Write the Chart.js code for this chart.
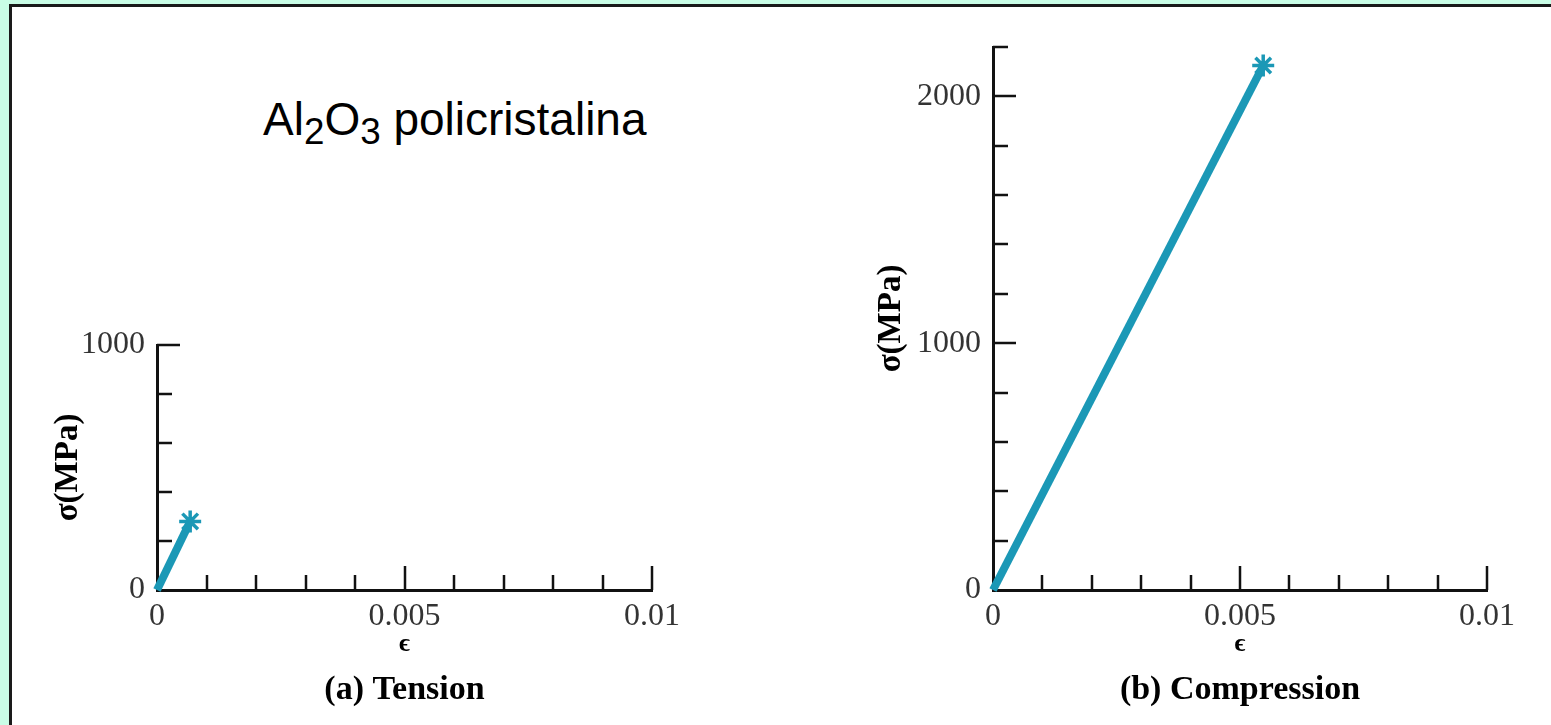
<!DOCTYPE html>
<html>
<head>
<meta charset="utf-8">
<script src="https://cdn.jsdelivr.net/npm/chart.js@4/dist/chart.umd.min.js"></script>
<style>
  html, body { margin: 0; padding: 0; }
  body { width: 1551px; height: 725px; background: #c9fde6; position: relative; overflow: hidden; }
  #panel { position: absolute; left: 9px; top: 4px; right: 0; bottom: 0; background: #fff;
           border-left: 3px solid #1a1a1a; border-top: 3px solid #1a1a1a; }
  canvas { position: absolute; top: 0; }
  #left { left: 0; }
  #right { left: 800px; }
  #heading { position: absolute; left: 263px; top: 96px; font: 46px "Liberation Sans", Arial, sans-serif;
             line-height: 1; color: #000; white-space: nowrap; }
  #heading sub { font-size: 0.8em; vertical-align: -9px; line-height: 0; }
</style>
</head>
<body>
<div id="panel"></div>
<div id="heading">Al<sub>2</sub>O<sub>3</sub> policristalina</div>
<canvas id="left" width="760" height="725"></canvas>
<canvas id="right" width="751" height="725"></canvas>
<script>
// strain (-) and stress (MPa)
const strainTension = [0, 0.00067];
const stressTension = [0, 280];
const strainCompression = [0, 0.00547];
const stressCompression = [0, 2125];

const xTickValues = [0, 0.005, 0.01];
const xTickLabels = ['0', '0.005', '0.01'];
const yTickValuesA = [0, 1000];
const yTickValuesB = [0, 1000, 2000];

const xMinorTicks = [0.001, 0.002, 0.003, 0.004, 0.005, 0.006, 0.007, 0.008, 0.009, 0.01];
const xMajorTicks = [0.005, 0.01];
const yMinorTicksA = [200, 400, 600, 800, 1000];
const yMajorTicksA = [1000];
const yMinorTicksB = [200, 400, 600, 800, 1000, 1200, 1400, 1600, 1800, 2000, 2200];
const yMajorTicksB = [1000, 2000];

const lineColor = '#1b98b6';
const serif = '"Liberation Serif", "Times New Roman", serif';

// tick marks pointing into the plot, like the original figure
const innerTicks = {
  id: 'innerTicks',
  beforeDatasetsDraw(chart, args, opts) {
    const ctx = chart.ctx;
    const x = chart.scales.x, y = chart.scales.y;
    ctx.save();
    ctx.strokeStyle = '#111';
    ctx.lineWidth = 2.5;
    ctx.beginPath();
    opts.x.forEach(v => {
      const px = Math.round(x.getPixelForValue(v));
      const len = opts.xMajor.includes(v) ? 24 : 15;
      ctx.moveTo(px, y.bottom);
      ctx.lineTo(px, y.bottom - len);
    });
    opts.y.forEach(v => {
      const py = Math.round(y.getPixelForValue(v));
      const len = opts.yMajor.includes(v) ? 23 : 15;
      ctx.moveTo(x.left, py);
      ctx.lineTo(x.left + len, py);
    });
    ctx.stroke();
    ctx.restore();
  }
};

function makeChart(id, strain, stress, yMax, yTicks, yMinor, yMajor, caption, padding, titlePad, yWidth) {
  const points = strain.map((s, i) => ({ x: s, y: stress[i] }));
  const last = points.length - 1;
  return new Chart(document.getElementById(id), {
    type: 'line',
    data: {
      datasets: [{
        data: points,
        borderColor: lineColor,
        backgroundColor: lineColor,
        borderWidth: 8,
        pointStyle: 'star',
        pointRadius: c => c.dataIndex === last ? 11 : 0,
        pointBorderWidth: 3.5,
        pointBorderColor: lineColor,
        clip: false
      }]
    },
    options: {
      responsive: false,
      animation: false,
      layout: { padding: padding },
      plugins: {
        legend: { display: false },
        tooltip: { enabled: false },
        title: {
          display: true,
          position: 'bottom',
          fullSize: false,
          text: caption,
          color: '#000',
          font: { family: serif, size: 34, weight: 'bold', lineHeight: 1.2 },
          padding: { top: 0, bottom: 0 }
        },
        innerTicks: { x: xMinorTicks, xMajor: xMajorTicks, y: yMinor, yMajor: yMajor }
      },
      scales: {
        x: {
          type: 'linear',
          min: 0,
          max: 0.01,
          grid: { display: false, drawTicks: false },
          border: { display: true, color: '#111', width: 3 },
          afterBuildTicks: s => { s.ticks = xTickValues.map(v => ({ value: v })); },
          afterFit: s => { s.height = 80; },
          ticks: {
            padding: 7,
            color: '#333',
            maxRotation: 0,
            font: { family: serif, size: 32 },
            callback: (v, i) => xTickLabels[i]
          },
          title: {
            display: true,
            text: 'ϵ',
            color: '#000',
            font: { family: serif, size: 26, weight: 'bold', lineHeight: 1.2 },
            padding: { top: 0, bottom: 10 }
          }
        },
        y: {
          type: 'linear',
          min: 0,
          max: yMax,
          grid: { display: false, drawTicks: false },
          border: { display: true, color: '#111', width: 3 },
          afterBuildTicks: s => { s.ticks = yTicks.map(v => ({ value: v })); },
          afterFit: s => { s.width = yWidth; },
          ticks: {
            padding: 12,
            color: '#333',
            font: { family: serif, size: 32 },
            callback: v => String(v)
          },
          title: {
            display: true,
            text: 'σ(MPa)',
            color: '#000',
            font: { family: serif, size: 33, weight: 'bold', lineHeight: 1.2 },
            padding: { top: titlePad, bottom: 0 }
          }
        }
      }
    },
    plugins: [innerTicks]
  });
}

makeChart('left', strainTension, stressTension, 1000, yTickValuesA, yMinorTicksA, yMajorTicksA,
  '(a) Tension', { left: 40, right: 108, top: 345, bottom: 14.2 }, 9, 117);
makeChart('right', strainCompression, stressCompression, 2200, yTickValuesB, yMinorTicksB, yMajorTicksB,
  '(b) Compression', { left: 72, right: 64, top: 47, bottom: 14.2 }, 0, 121);
</script>
</body>
</html>
